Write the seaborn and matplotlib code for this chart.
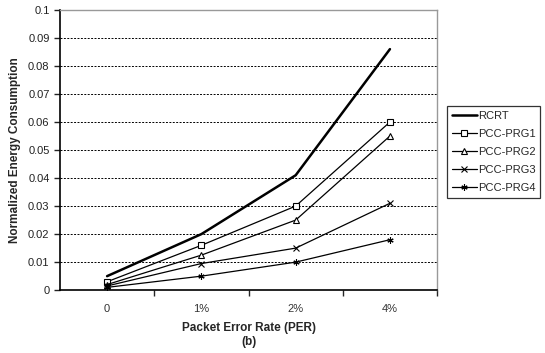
import matplotlib
matplotlib.use("Agg")
import matplotlib.pyplot as plt
import pandas as pd
import seaborn as sns
from matplotlib.ticker import MultipleLocator, FixedLocator, NullFormatter

categories = ["0", "1%", "2%", "4%"]
rcrt = [0.005, 0.020, 0.041, 0.086]
prg1 = [0.003, 0.016, 0.030, 0.060]
prg2 = [0.002, 0.0125, 0.025, 0.055]
prg3 = [0.0015, 0.0095, 0.015, 0.031]
prg4 = [0.001, 0.005, 0.010, 0.018]

series = {
    "RCRT": (rcrt, None, 1.8),
    "PCC-PRG1": (prg1, "s", 0.9),
    "PCC-PRG2": (prg2, "^", 0.9),
    "PCC-PRG3": (prg3, "x", 0.9),
    "PCC-PRG4": (prg4, (6, 2, 0), 0.9),
}

sns.set_style("white")
plt.rcParams["font.family"] = ["Liberation Sans", "DejaVu Sans"]

fig = plt.figure(figsize=(5.45, 3.53), dpi=100)
ax = fig.add_axes([0.110, 0.178, 0.692, 0.794])

for name, (vals, marker, lw) in series.items():
    df = pd.DataFrame({"x": range(len(categories)), "y": vals})
    sns.lineplot(data=df, x="x", y="y", ax=ax, color="black", linewidth=lw,
                 marker=marker, markersize=4.5, markerfacecolor="white",
                 markeredgecolor="black", markeredgewidth=0.8, label=name)

ax.set_xlim(-0.5, 3.5)
ax.set_ylim(0, 0.1)
ax.yaxis.set_major_locator(MultipleLocator(0.01))
ax.set_yticklabels([f"{v:g}" for v in ax.get_yticks()])
ax.set_xticks(range(len(categories)))
ax.set_xticklabels(categories)
ax.xaxis.set_minor_locator(FixedLocator([0.5, 1.5, 2.5, 3.5]))
ax.xaxis.set_minor_formatter(NullFormatter())
ax.tick_params(axis="x", which="major", length=0, labelsize=8, pad=10, colors="#333333")
ax.tick_params(axis="x", which="minor", length=4, width=1, direction="out", bottom=True)
ax.tick_params(axis="y", length=4, width=1, direction="out", left=True, labelsize=8, colors="#222222")
ax.grid(axis="y", linestyle=(0, (2, 1.5)), color="black", linewidth=0.7)
ax.set_axisbelow(True)

for side in ["left", "bottom"]:
    ax.spines[side].set_color("black")
    ax.spines[side].set_linewidth(1.2)
for side in ["right", "top"]:
    ax.spines[side].set_color("#999999")
    ax.spines[side].set_linewidth(1)

ax.set_xlabel("Packet Error Rate (PER)\n(b)", fontsize=8.5, fontweight="bold", labelpad=6)
ax.set_ylabel("Normalized Energy Consumption", fontsize=8.5, fontweight="bold", labelpad=5)

leg = ax.legend(loc="upper left", bbox_to_anchor=(1.027, 0.657), frameon=True,
                fancybox=False, edgecolor="black", fontsize=8, handlelength=2.2,
                handletextpad=0.1, borderpad=0.45, labelspacing=0.72, borderaxespad=0)
leg.get_frame().set_linewidth(0.9)

fig.savefig("out.png", dpi=100)
